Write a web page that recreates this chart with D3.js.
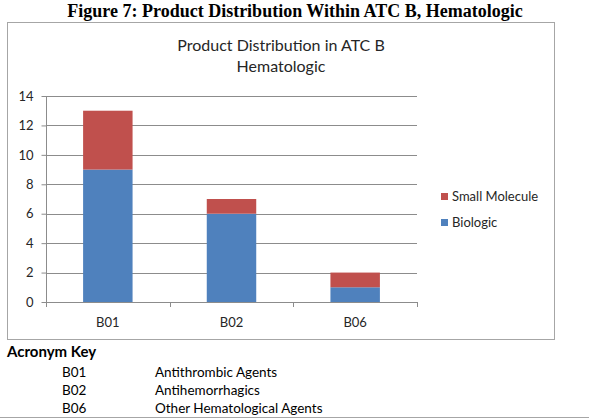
<!DOCTYPE html>
<meta charset="utf-8">
<script src="https://d3js.org/d3.v7.min.js"></script>
<style>
  body { margin: 0; background: #fff; }
  text { font-family: Lato, "Open Sans", sans-serif; fill: #262626; }
</style>
<body>
<div id="my_dataviz"></div>
<script>
// chart values
var categories = ["B01", "B02", "B06"];
var biologic = [9, 6, 1];
var smallMolecule = [4, 1, 1];
var seriesNames = ["Small Molecule", "Biologic"];
var yTicks = [0, 2, 4, 6, 8, 10, 12, 14];
var acronyms = ["B01", "B02", "B06"];
var acronymNames = ["Antithrombic Agents", "Antihemorrhagics", "Other Hematological Agents"];

var colors = {"Biologic": "#4f81bd", "Small Molecule": "#c0504d"};

var W = 589, H = 419;
var svg = d3.select("#my_dataviz")
  .append("svg")
    .attr("width", W)
    .attr("height", H);

// figure caption
svg.append("text")
  .attr("x", 295)
  .attr("y", 17)
  .attr("text-anchor", "middle")
  .style("font-family", "'Liberation Serif', 'Times New Roman', serif")
  .style("font-weight", "bold")
  .style("font-size", "18px")
  .style("fill", "#000")
  .text("Figure 7: Product Distribution Within ATC B, Hematologic");

// chart frame
svg.append("rect")
  .attr("x", 7.5).attr("y", 22.5)
  .attr("width", 547).attr("height", 317)
  .attr("fill", "#fff")
  .attr("stroke", "#a6a6a6");

// chart title
svg.append("text")
  .attr("x", 281)
  .attr("y", 50.5)
  .attr("text-anchor", "middle")
  .style("font-size", "16px")
  .text("Product Distribution in ATC B");
svg.append("text")
  .attr("x", 281)
  .attr("y", 72)
  .attr("text-anchor", "middle")
  .style("font-size", "16px")
  .text("Hematologic");

// scales
var x = d3.scaleBand()
  .domain(categories)
  .range([46, 417])
  .paddingInner(0.6)
  .paddingOuter(0.3);

var y = d3.scaleLinear()
  .domain([0, 14])
  .range([302, 96]);

// gridlines
svg.append("g")
  .selectAll("line")
  .data(yTicks.slice(1))
  .enter()
  .append("line")
    .attr("x1", 46).attr("x2", 417)
    .attr("y1", function (d) { return Math.round(y(d)) + 0.5; })
    .attr("y2", function (d) { return Math.round(y(d)) + 0.5; })
    .attr("stroke", "#8c8c8c");

// stacked bars
var rows = categories.map(function (c, i) {
  return {cat: c, "Biologic": biologic[i], "Small Molecule": smallMolecule[i]};
});
var stack = d3.stack().keys(["Biologic", "Small Molecule"])(rows);

svg.append("g")
  .selectAll("g")
  .data(stack)
  .enter()
  .append("g")
    .attr("fill", function (d) { return colors[d.key]; })
  .selectAll("rect")
  .data(function (d) { return d; })
  .enter()
  .append("rect")
    .attr("x", function (d) { return x(d.data.cat); })
    .attr("width", x.bandwidth())
    .attr("y", function (d) { return y(d[1]); })
    .attr("height", function (d) { return y(d[0]) - y(d[1]); });

// Y axis
var yAxis = svg.append("g")
  .attr("transform", "translate(46.5,0)")
  .call(d3.axisLeft(y).tickValues(yTicks).tickSize(5).tickPadding(8));
yAxis.select(".domain").attr("stroke", "#8c8c8c").attr("d", "M0," + y(0) + "V" + y(14));
yAxis.selectAll(".tick line").attr("stroke", "#8c8c8c");
yAxis.selectAll(".tick text")
  .style("font-family", "Lato, sans-serif")
  .style("font-size", "13px")
  .attr("fill", "#262626");

// X axis with ticks on category boundaries
var bounds = d3.range(categories.length + 1).map(function (i) {
  return x.range()[0] + i * x.step();
});
var xg = svg.append("g");
xg.append("line")
  .attr("x1", 46).attr("x2", 417)
  .attr("y1", y(0) + 0.5).attr("y2", y(0) + 0.5)
  .attr("stroke", "#8c8c8c");
xg.selectAll(".xt")
  .data(bounds)
  .enter()
  .append("line")
    .attr("x1", function (d) { return Math.round(d) + 0.5; })
    .attr("x2", function (d) { return Math.round(d) + 0.5; })
    .attr("y1", y(0))
    .attr("y2", y(0) + 5)
    .attr("stroke", "#8c8c8c");
xg.selectAll(".xl")
  .data(categories)
  .enter()
  .append("text")
    .attr("x", function (d) { return x(d) + x.bandwidth() / 2; })
    .attr("y", 327)
    .attr("text-anchor", "middle")
    .style("font-size", "13px")
    .text(function (d) { return d; });

// legend
var legend = svg.append("g")
  .selectAll("g")
  .data(seriesNames)
  .enter()
  .append("g")
    .attr("transform", function (d, i) { return "translate(441," + (193 + i * 26) + ")"; });
legend.append("rect")
  .attr("width", 7).attr("height", 7)
  .attr("fill", function (d) { return colors[d]; });
legend.append("text")
  .attr("x", 11)
  .attr("y", 8)
  .style("font-size", "13px")
  .text(function (d) { return d; });

// acronym key
svg.append("text")
  .attr("x", 7)
  .attr("y", 357)
  .style("font-size", "15px")
  .style("font-weight", "bold")
  .style("fill", "#000")
  .text("Acronym Key");

var key = svg.append("g")
  .selectAll("g")
  .data(acronyms)
  .enter()
  .append("g")
    .attr("transform", function (d, i) { return "translate(0," + (377 + i * 18) + ")"; });
key.append("text")
  .attr("x", 62)
  .style("font-size", "13.5px")
  .style("fill", "#000")
  .text(function (d) { return d; });
key.append("text")
  .attr("x", 155)
  .style("font-size", "13.5px")
  .style("fill", "#000")
  .text(function (d, i) { return acronymNames[i]; });

// bottom rule
svg.append("line")
  .attr("x1", 0).attr("x2", W)
  .attr("y1", 417.5).attr("y2", 417.5)
  .attr("stroke", "#a6a6a6");
</script>
</body>
